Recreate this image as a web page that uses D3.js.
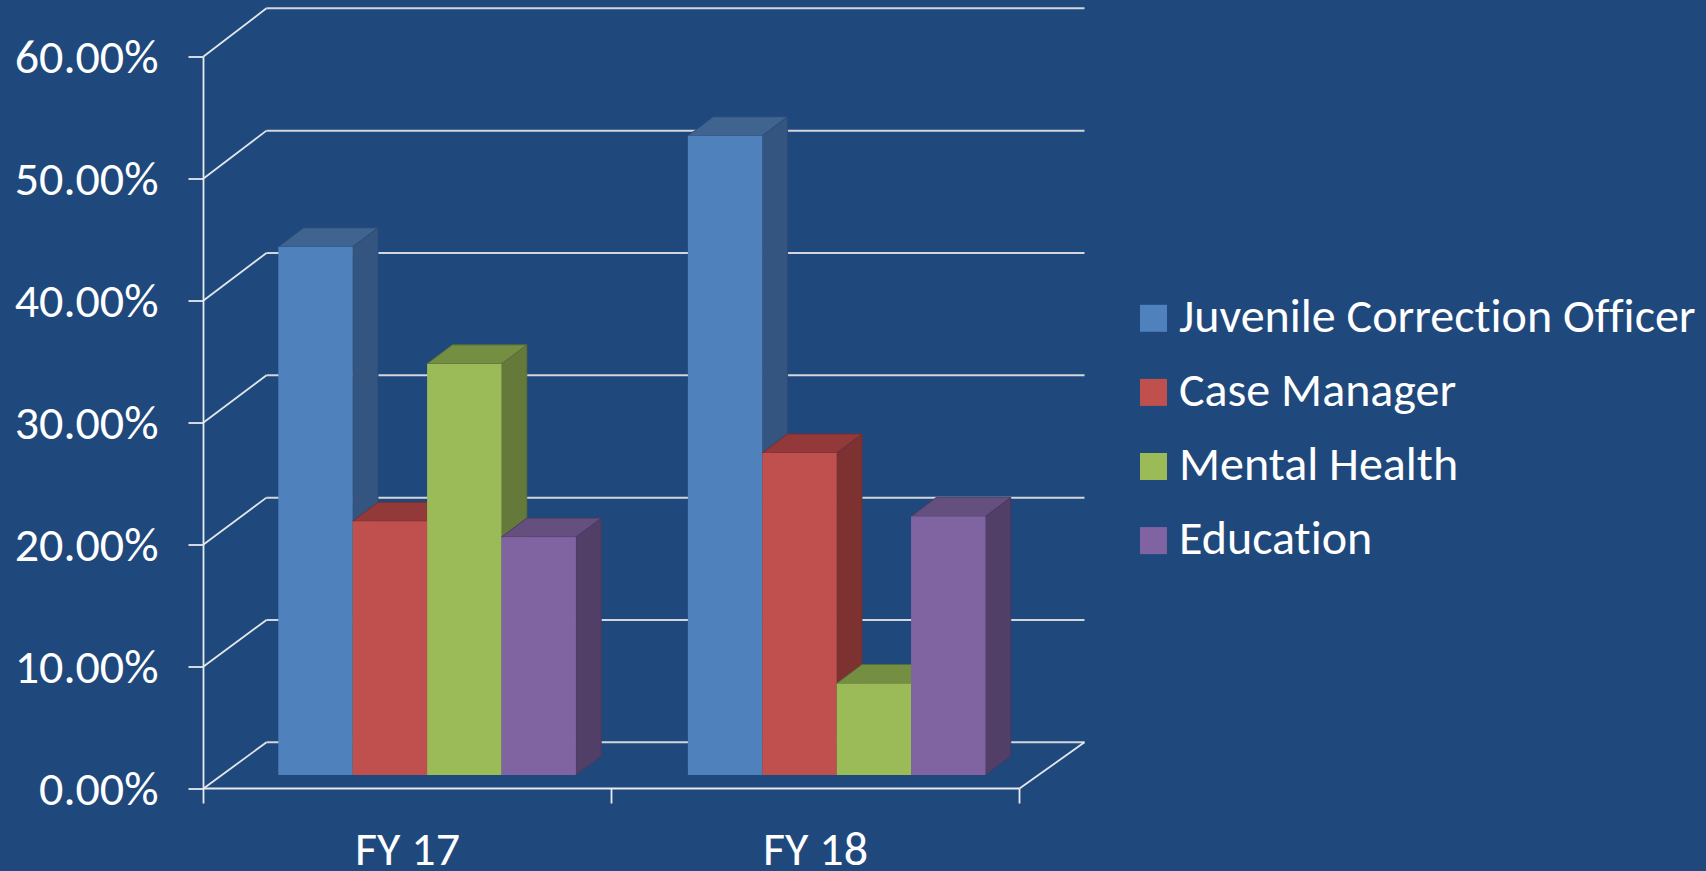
<!DOCTYPE html>
<html><head><meta charset="utf-8">
<script src="https://cdn.jsdelivr.net/npm/d3@7/dist/d3.min.js"></script>
<style>html,body{margin:0;padding:0;background:#1f497d;overflow:hidden}svg{display:block}text{font-family:Carlito,Lato,"Open Sans",sans-serif;fill:#fff;font-variant-ligatures:none;font-feature-settings:"liga" 0,"clig" 0,"dlig" 0}</style>
</head><body><svg id="c" width="1706" height="871"></svg>
<script>
const categories = ["FY 17","FY 18"];
const seriesNames = ["Juvenile Correction Officer","Case Manager","Mental Health","Education"];
const seriesColors = ["#4f81bd","#c0504d","#9bbb59","#8064a2"];
const sideColors = ["#34557f","#7d3231","#64793a","#523f68"];
const topColors = ["#3e648f","#94393a","#758f42","#654f7f"];
const edgeColors = ["#2b4a74","#6b3036","#586c3a","#483a60"];
const juvenile = [43.3,52.4];
const caseManager = [20.8,26.4];
const mentalHealth = [33.7,7.5];
const education = [19.5,21.2];
const tickValues = [0,10,20,30,40,50,60];
const seriesValues = [juvenile,caseManager,mentalHealth,education];

const svg = d3.select("#c");
const axisX0=203.5, axisX1=1019.5, axisY0=788.5, axisY60=56.5;
const wallX0=266.5, wallX1=1084.5;
const barBase=775, barDx=25.3, barDy=-19;
const yAxis=d3.scaleLinear().domain([0,60]).range([axisY0,axisY60]);
const yWall=d3.scaleLinear().domain([0,60]).range([742.3,8.3]);
const yBar=d3.scaleLinear().domain([0,60]).range([barBase,barBase-(axisY0-axisY60)]);
const xAxis=d3.scaleBand().domain(categories).range([axisX0,axisX1]);
const xCat=d3.scaleBand().domain(categories).range([278.3,985.5]).paddingInner(0.2734);
const xSer=d3.scaleBand().domain(d3.range(seriesNames.length)).range([0,xCat.bandwidth()]);

// walls
const grid=svg.append("g");
tickValues.forEach(t=>{
  grid.append("line").attr("x1",wallX0).attr("x2",wallX1).attr("y1",yWall(t)).attr("y2",yWall(t)).attr("stroke","#d3d7dd").attr("stroke-width",2);
  grid.append("line").attr("x1",axisX0).attr("x2",wallX0).attr("y1",yAxis(t)).attr("y2",yWall(t)).attr("stroke","#e4e7ec").attr("stroke-width",1.8);
});
grid.append("line").attr("x1",axisX1).attr("x2",wallX1).attr("y1",axisY0).attr("y2",yWall(0)).attr("stroke","#e4e7ec").attr("stroke-width",1.8);

// axes
const left=svg.append("g").attr("transform",`translate(${axisX0},0)`).call(d3.axisLeft(yAxis).tickValues(tickValues).tickSize(15).tickPadding(30).tickFormat(d=>d3.format(".2f")(d)+"%"));
left.selectAll("path,line").attr("stroke","#e8eaee").attr("stroke-width",1.8);
left.select("path").attr("d",`M0,${axisY60}V${axisY0+15}`);
left.selectAll("text").attr("font-size",48).style("fill","#fff").attr("dy","0.34em").style("font-family","Carlito,Lato,sans-serif");
const bottom=svg.append("g").attr("transform",`translate(0,${axisY0})`);
bottom.append("line").attr("x1",axisX0).attr("x2",axisX1).attr("stroke","#e8eaee").attr("stroke-width",1.8);
[axisX0+xAxis.step(),axisX1].forEach(x=>bottom.append("line").attr("x1",x).attr("x2",x).attr("y2",15).attr("stroke","#e8eaee").attr("stroke-width",1.8));
bottom.selectAll("text.cat").data(categories).join("text").attr("class","cat").attr("x",d=>xAxis(d)+xAxis.bandwidth()/2).attr("y",76.5).attr("text-anchor","middle").attr("font-size",48).text(d=>d);

// bars
categories.forEach((c,ci)=>{
  seriesNames.forEach((s,si)=>{
    const g=svg.append("g");
    const x=xCat(c)+xSer(si), w=xSer.bandwidth(), yT=yBar(seriesValues[si][ci]);
    g.append("polygon").attr("points",[[x+w,yT],[x+w+barDx,yT+barDy],[x+w+barDx,barBase+barDy],[x+w,barBase]].join(" ")).attr("fill",sideColors[si]).attr("stroke",edgeColors[si]).attr("stroke-width",.9);
    g.append("polygon").attr("points",[[x,yT],[x+barDx,yT+barDy],[x+w+barDx,yT+barDy],[x+w,yT]].join(" ")).attr("fill",topColors[si]).attr("stroke",edgeColors[si]).attr("stroke-width",.9);
    g.append("rect").attr("x",x).attr("y",yT).attr("width",w).attr("height",barBase-yT).attr("fill",seriesColors[si]);
  });
});

// legend
const legY=d3.scalePoint().domain(seriesNames).range([318.3,540.6]);
const leg=svg.append("g");
seriesNames.forEach((s,i)=>{
  leg.append("rect").attr("x",1140).attr("y",legY(s)-13.5).attr("width",27).attr("height",27).attr("fill",seriesColors[i]);
  leg.append("text").attr("x",1179).attr("y",legY(s)+13.4).attr("font-size",48).text(s);
});
</script></body></html>
